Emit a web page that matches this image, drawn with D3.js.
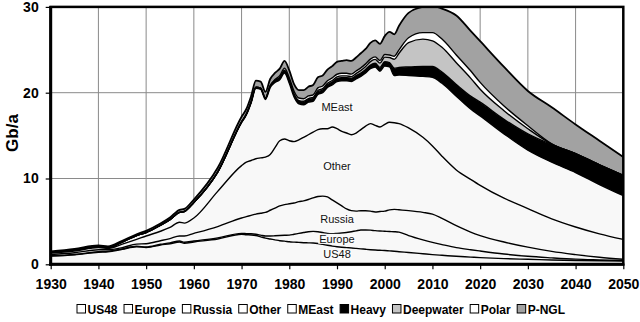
<!DOCTYPE html>
<html><head><meta charset="utf-8">
<script src="https://cdn.jsdelivr.net/npm/d3@7"></script>
<style>
body{margin:0;background:#fff}
svg{display:block;font-family:"Liberation Sans",Arial,sans-serif}
</style>
</head><body>
<svg id="chart" width="640" height="322"></svg>
<script>
// ---- data (Gb/a) ----
const years = [1930,1935,1940,1942,1945,1948,1950,1953,1955,1957,1958,1960,1965,1970,
  1971,1972,1973,1974,1975,1976,1977,1978,1979,1980,
  1981,1982,1983,1984,1985,1986,1987,1988,1989,1990,
  1991,1992,1993,1994,1995,1996,1997,1998,1999,2000,
  2001,2002,2003,2005,2008,2010,2012,2015,2018,2020,2025,2030,2035,2040,2045,2050];
const us48 = [0.95,1.1,1.4,1.45,1.75,2.05,1.95,2.25,2.4,2.6,2.45,2.6,2.95,3.5,
  3.45,3.42,3.35,3.2,3.05,2.95,2.85,2.75,2.7,2.62,
  2.58,2.55,2.52,2.5,2.48,2.42,2.32,2.22,2.12,2.04,
  1.98,1.94,1.9,1.85,1.8,1.75,1.7,1.66,1.63,1.6,
  1.56,1.52,1.47,1.38,1.23,1.13,1.05,0.93,0.84,0.78,0.66,0.58,0.5,0.45,0.41,0.38];
const europe = [0.05,0.05,0.07,0.07,0.05,0.05,0.07,0.08,0.1,0.12,0.12,0.12,0.13,0.1,
  0.13,0.14,0.15,0.2,0.25,0.35,0.47,0.6,0.68,0.78,
  0.92,1.05,1.18,1.3,1.36,1.38,1.38,1.38,1.45,1.56,
  1.66,1.76,1.9,2.05,2.2,2.25,2.28,2.26,2.25,2.25,
  2.26,2.28,2.28,1.97,1.62,1.42,1.25,1.02,0.86,0.77,0.54,0.35,0.25,0.15,0.11,0.07];
const russia = [0.15,0.2,0.23,0.18,0.15,0.25,0.38,0.42,0.5,0.58,0.73,0.88,1.32,1.8,
  1.97,2.14,2.35,2.55,2.75,3.0,3.23,3.45,3.57,3.65,
  3.65,3.7,3.7,3.75,3.91,4.1,4.25,4.25,3.93,3.55,
  3.16,2.75,2.45,2.3,2.25,2.25,2.22,2.18,2.27,2.35,
  2.53,2.6,2.6,2.9,3.2,3.3,3.05,2.55,2.05,1.8,1.4,1.07,0.75,0.53,0.3,0.13];
const other = [0.15,0.2,0.25,0.15,0.4,0.55,0.9,1.1,1.3,1.6,1.5,1.8,4.1,6.1,
  6.35,6.4,6.45,6.45,6.45,6.5,7.05,7.6,7.65,7.35,
  7.15,7.2,7.4,7.55,7.65,7.8,7.85,7.95,8.5,8.65,
  8.7,8.85,8.85,9.1,9.45,9.85,10.2,10.1,9.85,10.1,
  10.2,10.1,10.05,9.65,8.75,7.95,7.25,6.5,6.15,5.85,5.1,4.5,3.8,3.22,2.73,2.32];
const meast = [0.1,0.13,0.1,0.1,0.25,0.45,0.4,0.7,0.9,1.15,1.35,1.8,2.25,5.0,
  5.5,6.7,8.2,8.0,6.7,7.8,7.6,7.1,7.7,6.7,
  5.2,4.2,3.8,3.8,3.6,4.1,4.2,4.8,4.9,5.5,
  5.9,6.1,6.2,6.3,6.2,6.2,6.4,6.8,6.5,6.8,
  6.45,5.5,5.65,6.1,7.1,8.0,8.5,8.6,8.2,8.1,7.5,6.8,6.6,6.35,5.75,5.1];
const heavy = [0,0,0,0,0,0,0,0,0,0,0,0,0,0.1,
  0.1,0.12,0.13,0.14,0.15,0.17,0.19,0.21,0.23,0.25,
  0.26,0.27,0.28,0.29,0.3,0.31,0.32,0.33,0.34,0.35,
  0.36,0.36,0.37,0.38,0.4,0.41,0.42,0.43,0.45,0.5,
  0.5,0.85,0.9,1.0,1.15,1.25,1.3,1.35,1.5,1.6,1.7,1.9,2.05,2.2,2.3,2.35];
const deepwater = [0,0,0,0,0,0,0,0,0,0,0,0,0,0,
  0,0,0,0,0.03,0.04,0.05,0.06,0.08,0.1,
  0.1,0.11,0.12,0.13,0.15,0.15,0.16,0.17,0.18,0.2,
  0.2,0.2,0.2,0.25,0.3,0.35,0.4,0.45,0.5,0.55,
  0.6,1.05,1.65,2.85,3.2,3.0,2.9,2.55,2.1,1.5,1.0,0.6,0.05,0,0,0];
const polar = [0,0,0,0,0,0,0,0,0,0,0,0,0,0,
  0,0,0,0,0,0,0.1,0.2,0.25,0.3,
  0.3,0.3,0.3,0.3,0.3,0.3,0.3,0.3,0.3,0.3,
  0.3,0.3,0.3,0.3,0.3,0.3,0.3,0.3,0.3,0.3,
  0.3,0.35,0.4,0.55,0.75,0.95,0.95,0.9,0.85,0.8,0.55,0.35,0.05,0,0,0];
const pngl = [0.1,0.12,0.15,0.15,0.15,0.15,0.2,0.2,0.25,0.3,0.3,0.35,0.5,0.6,
  0.6,0.68,0.77,0.76,0.72,0.79,0.76,0.83,0.84,0.85,
  0.84,0.92,1.0,1.08,1.15,1.24,1.22,1.3,1.38,1.45,
  1.44,1.54,1.53,1.57,1.7,1.74,1.88,1.92,1.95,2.15,
  2.7,2.55,2.8,2.9,3.0,3.1,3.55,4.6,4.65,4.8,4.55,4.05,4.25,3.4,2.8,2.15];

const seriesNames = ["US48","Europe","Russia","Other","MEast","Heavy","Deepwater","Polar","P-NGL"];
const seriesValues = [us48,europe,russia,other,meast,heavy,deepwater,polar,pngl];
const xTicks = [1930,1940,1950,1960,1970,1980,1990,2000,2010,2020,2030,2040,2050];
const yTicks = [0,10,20,30];
const yTitle = "Gb/a";
const areaLabels = ["MEast","Other","Russia","Europe","US48"];
const areaLabelValues = [17.9,11.0,4.8,2.5,0.75];
const areaLabelYear = 1990;

// ---- styles ----
const fills = {"US48":"#f8f8f8","Europe":"#f8f8f8","Russia":"#f8f8f8","Other":"#f8f8f8","MEast":"#f8f8f8",
  "Heavy":"#000","Deepwater":"#c4c4c4","Polar":"#ffffff","P-NGL":"#a2a2a2"};
const legendFills = {"US48":"#fff","Europe":"#fff","Russia":"#fff","Other":"#fff","MEast":"#fff",
  "Heavy":"#000","Deepwater":"#c4c4c4","Polar":"#fff","P-NGL":"#a2a2a2"};

const rows = years.map((yr,i)=>{const r={year:yr}; seriesNames.forEach((n,k)=>r[n]=seriesValues[k][i]); return r;});
const stack = d3.stack().keys(seriesNames)(rows);

const svg = d3.select("#chart");
const L=50.7, R=623.3, T=6.9, B=264.3;
const x = d3.scaleLinear().domain([1930,2050]).range([L,R]);
const y = d3.scaleLinear().domain([0,30]).range([B,T]);

svg.append("defs").append("clipPath").attr("id","clip")
  .append("rect").attr("x",L).attr("y",T).attr("width",R-L).attr("height",B-T);

// grid
const grid = svg.append("g").attr("stroke","#8a8a8a").attr("stroke-width",1);
xTicks.slice(1,-1).forEach(t=>grid.append("line").attr("x1",x(t)).attr("x2",x(t)).attr("y1",T).attr("y2",B));
yTicks.slice(1,-1).forEach(t=>grid.append("line").attr("x1",L).attr("x2",R).attr("y1",y(t)).attr("y2",y(t)));

const curve = d3.curveMonotoneX;
const area = d3.area().curve(curve).x(d=>x(d.data.year)).y0(d=>y(d[0])).y1(d=>y(d[1]));
const line = d3.line().curve(curve).x(d=>x(d.data.year)).y(d=>y(d[1]));

const plot = svg.append("g").attr("clip-path","url(#clip)");
plot.selectAll("path.a").data(stack).join("path").attr("class","a")
  .attr("d",area).attr("fill",d=>fills[d.key]).attr("stroke","none");
plot.selectAll("path.l").data(stack).join("path").attr("class","l")
  .attr("d",line).attr("fill","none").attr("stroke","#000")
  .attr("stroke-width",d=>d.key==="P-NGL"?1.8:1.4).attr("stroke-linejoin","round");

// area labels
const lab = svg.append("g").attr("font-size",11).attr("text-anchor","middle").attr("fill","#111");
areaLabels.forEach((t,i)=>{
  const tx = lab.append("text").attr("x",x(areaLabelYear)).attr("y",y(areaLabelValues[i])).text(t);
  const bb = tx.node().getBBox();
  lab.insert("rect","text").attr("x",bb.x-1).attr("y",bb.y+1).attr("width",bb.width+2).attr("height",bb.height-2).attr("fill","#fafafa");
});

// frame
svg.append("rect").attr("x",L).attr("y",T).attr("width",R-L).attr("height",B-T)
  .attr("fill","none").attr("stroke","#000").attr("stroke-width",2.5);
svg.append("line").attr("x1",L).attr("x2",L).attr("y1",T-1).attr("y2",B+1.5).attr("stroke","#000").attr("stroke-width",3);
svg.append("line").attr("x1",L-1.5).attr("x2",R+1).attr("y1",B).attr("y2",B).attr("stroke","#000").attr("stroke-width",3);

// axes
const xa = svg.append("g").attr("transform",`translate(0,${B})`)
  .call(d3.axisBottom(x).tickValues(xTicks).tickFormat(d3.format("d")).tickSize(5).tickPadding(10));
const ya = svg.append("g").attr("transform",`translate(${L},0)`)
  .call(d3.axisLeft(y).tickValues(yTicks).tickSize(5).tickPadding(7));
[xa,ya].forEach(a=>{
  a.select(".domain").remove();
  a.selectAll(".tick line").attr("stroke","#000").attr("stroke-width",1.2);
  a.selectAll("text").attr("font-size",14).attr("font-weight","bold").attr("fill","#000")
   .attr("font-family",'"Liberation Sans",Arial,sans-serif');
});

svg.append("text").attr("transform",`translate(18,${133}) rotate(-90)`)
  .attr("text-anchor","middle").attr("font-size",17).attr("font-weight","bold").text(yTitle);

// legend
const leg = svg.append("g").attr("font-size",12).attr("font-weight","bold");
let lx = 77; const ly = 309;
seriesNames.forEach(n=>{
  leg.append("rect").attr("x",lx).attr("y",ly-4.5).attr("width",8.5).attr("height",8.5)
    .attr("fill",legendFills[n]).attr("stroke","#000").attr("stroke-width",1);
  const t = leg.append("text").attr("x",lx+10.5).attr("y",ly+4.5).text(n);
  lx += 10.5 + t.node().getComputedTextLength() + 6.5;
});
</script>
</body></html>
